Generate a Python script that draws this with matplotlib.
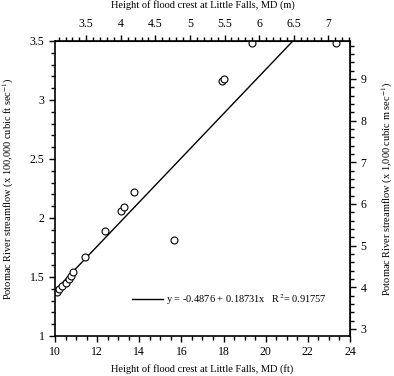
import numpy as np
import matplotlib
matplotlib.use("Agg")
import matplotlib.pyplot as plt
from matplotlib.ticker import MultipleLocator

plt.rcParams['font.family'] = ['Liberation Serif', 'DejaVu Serif']
plt.rcParams['mathtext.fontset'] = 'stix'

# flood crest height (ft) vs streamflow (x 100,000 cfs)
crest_ft = [10.1, 10.2, 10.35, 10.5, 10.65, 10.75, 10.85, 11.44, 12.39,
            13.12, 13.27, 13.75, 15.65, 17.91, 18.02, 19.35, 23.34]
flow = [1.37, 1.40, 1.42, 1.45, 1.48, 1.51, 1.54, 1.67, 1.89,
        2.06, 2.09, 2.22, 1.81, 3.16, 3.18, 3.48, 3.48]

intercept = -0.4876
slope = 0.18731
r2 = 0.91757

FT_TO_M = 0.3048
CFS_TO_CMS = 2.8317  # 100,000 cfs -> 1,000 m3/s

fig = plt.figure(figsize=(3.94, 3.76), dpi=100)
ax = fig.add_axes([0.1396, 0.1064, 0.7487, 0.7846])

fit_x = np.array([10, 24])
ax.plot(fit_x, intercept + slope * fit_x, color='black', lw=1,
        label='y = %.4f + %.5fx   R$^2$= %.5f' % (intercept, slope, r2))
ax.plot(crest_ft, flow, 'o', mfc='white', mec='black', ms=5, mew=0.8)

ax.set_xlim(10, 24)
ax.set_ylim(1, 3.5)
ax.xaxis.set_major_locator(MultipleLocator(2))
ax.xaxis.set_minor_locator(MultipleLocator(0.5))
ax.yaxis.set_major_locator(MultipleLocator(0.5))
ax.yaxis.set_minor_locator(MultipleLocator(0.1))
ax.yaxis.set_major_formatter(plt.FuncFormatter(lambda v, p: '%g' % v))
ax.tick_params(which='both', direction='out', labelsize=8.5, width=1)
ax.tick_params(which='major', length=4)
ax.tick_params(which='minor', length=3)
ax.set_xlabel('Height of flood crest at Little Falls, MD (ft)', fontsize=7.5, labelpad=4)
ax.set_ylabel('Potomac River streamflow (x 100,000 cubic ft sec$^{-1}$)', fontsize=7.5, labelpad=10)

top = ax.secondary_xaxis('top', functions=(lambda x: x * FT_TO_M, lambda x: x / FT_TO_M))
top.xaxis.set_major_locator(MultipleLocator(0.5))
top.xaxis.set_minor_locator(MultipleLocator(0.1))
top.xaxis.set_major_formatter(plt.FuncFormatter(lambda v, p: '%g' % v))
top.tick_params(which='both', direction='out', labelsize=8.5, width=1)
top.tick_params(which='major', length=4, pad=4)
top.tick_params(which='minor', length=3)
top.set_xlabel('Height of flood crest at Little Falls, MD (m)', fontsize=7.5, labelpad=7)

right = ax.secondary_yaxis('right', functions=(lambda y: y * CFS_TO_CMS, lambda y: y / CFS_TO_CMS))
right.yaxis.set_major_locator(MultipleLocator(1))
right.yaxis.set_minor_locator(MultipleLocator(0.2))
right.tick_params(which='both', direction='out', labelsize=8.5, width=1)
right.tick_params(which='major', length=4)
right.tick_params(which='minor', length=3)
right.set_ylabel('Potomac River streamflow (x 1,000 cubic m sec$^{-1}$)', fontsize=7.5, labelpad=9.5)

for s in ax.spines.values():
    s.set_linewidth(1.2)

ax.legend(loc='center left', bbox_to_anchor=(0.26, 0.125), frameon=False,
          handlelength=3, handletextpad=0.3, fontsize=7.5, borderpad=0, borderaxespad=0)

fig.savefig('out.png', dpi=100)
